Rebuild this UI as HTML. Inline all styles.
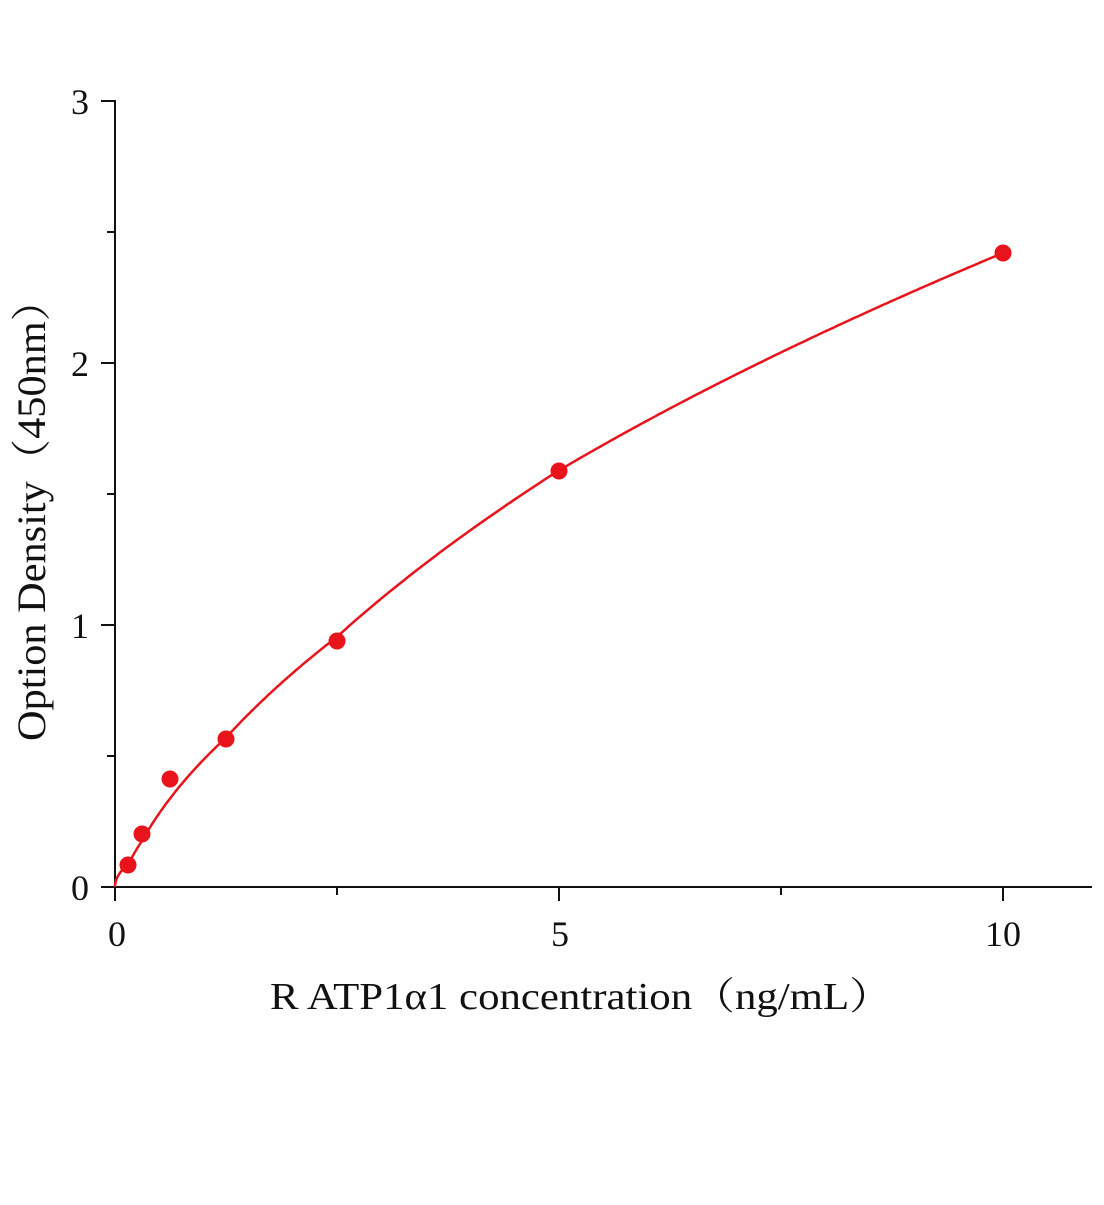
<!DOCTYPE html>
<html><head><meta charset="utf-8"><style>
html,body{margin:0;padding:0;background:#fff;}
svg text{font-family:"Liberation Serif","Noto Serif CJK SC",serif;fill:#111;}
</style></head><body>
<svg id="s" width="1104" height="1200" xmlns="http://www.w3.org/2000/svg">
<g stroke="#111" stroke-width="2" fill="none">
<line x1="115" y1="100" x2="115" y2="888"/>
<line x1="114" y1="887" x2="1092" y2="887"/>
<line x1="101" y1="101" x2="115" y2="101"/>
<line x1="101" y1="363" x2="115" y2="363"/>
<line x1="101" y1="625" x2="115" y2="625"/>
<line x1="101" y1="887" x2="115" y2="887"/>
<line x1="107" y1="232" x2="115" y2="232"/>
<line x1="107" y1="494" x2="115" y2="494"/>
<line x1="107" y1="756" x2="115" y2="756"/>
<line x1="115" y1="887" x2="115" y2="901"/>
<line x1="559" y1="887" x2="559" y2="901"/>
<line x1="1003" y1="887" x2="1003" y2="901"/>
<line x1="337" y1="887" x2="337" y2="895"/>
<line x1="781" y1="887" x2="781" y2="895"/>
</g>
<g font-size="36" text-anchor="end">
<text x="89" y="114">3</text><text x="89" y="376">2</text><text x="89" y="638">1</text><text x="89" y="900">0</text>
</g>
<g font-size="36" text-anchor="middle">
<text x="117" y="946">0</text><text x="560" y="946">5</text><text x="1003" y="946">10</text>
</g>
<text x="270" y="1009" font-size="38" textLength="622" lengthAdjust="spacingAndGlyphs">R ATP1α1  concentration（ng/mL）</text>
<text transform="translate(45,510) rotate(-90)" font-size="40" text-anchor="middle" textLength="462" lengthAdjust="spacingAndGlyphs">Option Density（450nm）</text>
<path id="c" fill="none" stroke="#e8131b" stroke-width="2.5"/>
<g fill="#e8131b">
<circle cx="128" cy="865" r="8.5"/><circle cx="142" cy="834" r="8.5"/><circle cx="170" cy="779" r="8.5"/>
<circle cx="226" cy="739" r="8.5"/><circle cx="337" cy="641" r="8.5"/><circle cx="559" cy="471" r="8.5"/>
<circle cx="1003" cy="253" r="8.5"/>
</g>
</svg>
<script>
var P=[[0,0],[0.156,0.09],[0.3125,0.18],[0.625,0.34],[1.25,0.57],[2.5,0.955],[5,1.59],[10,2.42]];
function X(x){return 115+x*88.8}function Y(y){return 887-y*262}
var d="M"+X(0)+" "+Y(0);
for(var i=0;i<=400;i++){var t=i/400,x=10*t*t;var y;
for(var k=0;k<P.length-1;k++){if(x<=P[k+1][0]){var a=Math.sqrt(P[k][0]),b=Math.sqrt(P[k+1][0]),u=(Math.sqrt(x)-a)/(b-a);y=P[k][1]+(P[k+1][1]-P[k][1])*u;break;}}
if(y===undefined)y=2.42;d+=" L"+X(x).toFixed(1)+" "+Y(y).toFixed(1);y=undefined;}
document.getElementById("c").setAttribute("d",d);
</script>
</body></html>
